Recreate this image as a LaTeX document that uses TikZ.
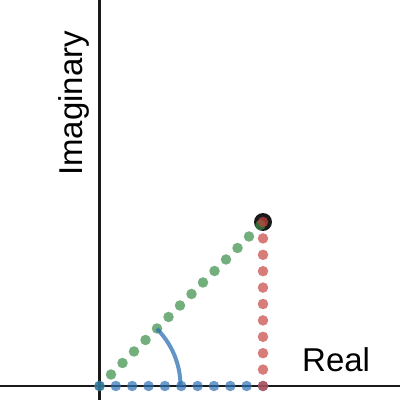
\documentclass[tikz,border=0pt]{standalone}
\usepackage{fontspec}
\setmainfont{Liberation Sans}
\usetikzlibrary{calc}
\definecolor{dred}{HTML}{C74440}
\definecolor{dblue}{HTML}{2D70B3}
\definecolor{dgreen}{HTML}{388C46}
\definecolor{axisc}{HTML}{1A1A1A}
\begin{document}
\begin{tikzpicture}[x=1pt,y=1pt,
  axisline/.style={line width=2.7pt,draw=axisc},
  bdot/.style={circle,fill=dblue,fill opacity=0.7,inner sep=0pt,minimum size=10.5pt},
  rdot/.style={circle,fill=dred,fill opacity=0.7,inner sep=0pt,minimum size=10.5pt},
  gdot/.style={circle,fill=dgreen,fill opacity=0.7,inner sep=0pt,minimum size=10.5pt},
  lbl/.style={inner sep=0pt,font=\fontsize{33}{39}\selectfont}]
\useasboundingbox (0,0) rectangle (400,400);
\coordinate (O) at (99.5,14);
\coordinate (P) at (263,178);
\coordinate (xl) at (0,14);
\coordinate (xr) at (400,14);
\coordinate (yb) at (99.5,0);
\coordinate (yt) at (99.5,400);
\draw[axisline] (xl) -- (xr);
\draw[axisline] (yb) -- (yt);
\node[circle,fill=axisc,inner sep=0pt,minimum size=18pt] (pt) at (P) {};
\foreach \k in {0,...,14} {
  \node[gdot] (g\k) at ($(O)+(11.5*\k,11.5*\k)$) {};
}
\foreach \k in {0,...,10} {
  \node[bdot] (b\k) at ($(O)+(16.35*\k,0)$) {};
}
\foreach \k in {0,...,10} {
  \node[rdot] (r\k) at ($(263,14)+(0,16.4*\k)$) {};
}
\draw[dblue,draw opacity=0.75,line width=4pt] ($(O)+(45:81)$) arc[start angle=45,end angle=0,radius=81];
\node[lbl,anchor=base west] (real) at (302,28.3) {Real};
\node[lbl,anchor=base,rotate=90] (imag) at (82.5,296.5) {Imaginary};
\end{tikzpicture}
\end{document}
